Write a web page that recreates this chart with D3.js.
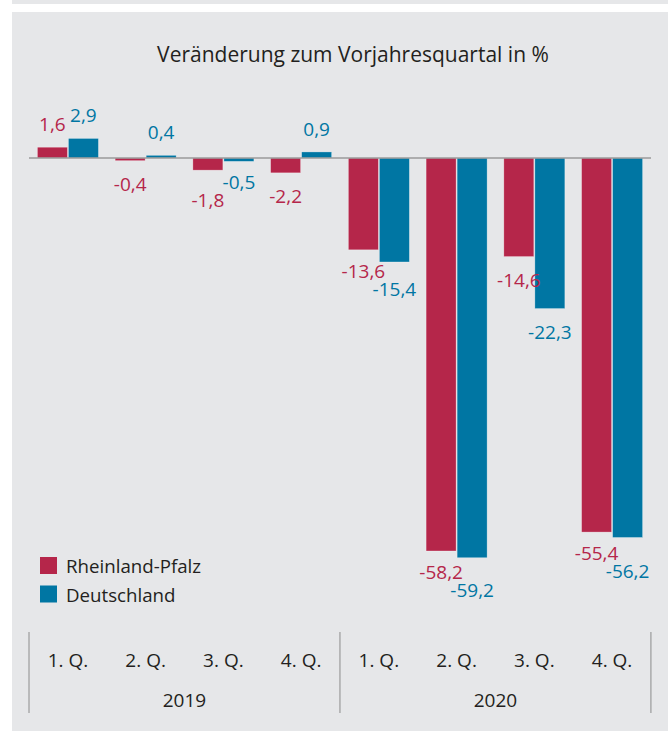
<!DOCTYPE html>
<html>
<head>
<meta charset="utf-8">
<script src="https://cdn.jsdelivr.net/npm/d3@7"></script>
<style>
  html, body { margin: 0; padding: 0; background: #fff; }
  svg { display: block; font-family: 'Open Sans', sans-serif; }
</style>
</head>
<body>
<svg id="chart" width="668" height="733"></svg>
<script>
  // data
  const quarters = ['1. Q.', '2. Q.', '3. Q.', '4. Q.', '1. Q.', '2. Q.', '3. Q.', '4. Q.'];
  const years = ['2019', '2020'];
  const seriesNames = ['Rheinland-Pfalz', 'Deutschland'];
  const rheinlandPfalz = [1.6, -0.4, -1.8, -2.2, -13.6, -58.2, -14.6, -55.4];
  const deutschland = [2.9, 0.4, -0.5, 0.9, -15.4, -59.2, -22.3, -56.2];
  const title = 'Veränderung zum Vorjahresquartal in %';

  const COLORS = ['#b5264a', '#0076a3'];
  const BG = '#e6e7e9';
  const TEXT = '#231f20';

  const svg = d3.select('#chart');
  const fmt = function (v) { return d3.format('.1f')(v).replace('.', ',').replace('\u2212', '-'); };

  // panel backgrounds
  svg.append('rect').attr('x', 12).attr('y', 0).attr('width', 656).attr('height', 4).attr('fill', BG);
  svg.append('rect').attr('x', 12).attr('y', 12).attr('width', 656).attr('height', 719).attr('fill', BG);

  svg.append('text')
    .attr('x', 353).attr('y', 62)
    .attr('text-anchor', 'middle')
    .attr('font-size', 21)
    .attr('fill', TEXT)
    .text(title);

  const keys = quarters.map(function (q, i) { return i; });
  const x0 = d3.scaleBand().domain(keys).range([29, 651]).paddingInner(0.215).paddingOuter(0.108);
  const x1 = d3.scaleBand().domain([0, 1]).range([0, x0.bandwidth()]).paddingInner(0.033);
  const y = d3.scaleLinear().domain([0, -58.2]).range([158, 551]);

  const rows = keys.map(function (i) {
    return { i: i, values: [rheinlandPfalz[i], deutschland[i]] };
  });

  const groups = svg.append('g').selectAll('g')
    .data(rows).join('g')
    .attr('transform', function (d) { return 'translate(' + x0(d.i) + ',0)'; });

  groups.selectAll('rect')
    .data(function (d) { return d.values.map(function (v, s) { return { v: v, s: s }; }); })
    .join('rect')
    .attr('x', function (d) { return x1(d.s); })
    .attr('y', function (d) { return y(Math.max(0, d.v)); })
    .attr('width', x1.bandwidth())
    .attr('height', function (d) { return Math.abs(y(d.v) - y(0)); })
    .attr('fill', function (d) { return COLORS[d.s]; })
    .attr('stroke', '#ffffff').attr('stroke-opacity', 0.5).attr('stroke-width', 0.6);

  // zero line
  svg.append('line')
    .attr('x1', 29).attr('x2', 651).attr('y1', y(0)).attr('y2', y(0))
    .attr('stroke', '#9a9a9a').attr('stroke-width', 1.5);

  // value labels, stacked apart when a pair would collide
  const OFFSET = 23;
  const STAGGER = 18;
  groups.each(function (d) {
    const g = d3.select(this);
    const labels = d.values.map(function (v, s) {
      const t = g.append('text')
        .attr('x', x1(s) + x1.bandwidth() / 2)
        .attr('text-anchor', 'middle')
        .attr('dominant-baseline', 'central')
        .attr('font-size', 19)
        .attr('fill', COLORS[s])
        .text(fmt(v));
      const cy = v >= 0 ? y(v) - OFFSET : y(v) + OFFSET;
      return { t: t, v: v, s: s, cy: cy, w: t.node().getComputedTextLength() };
    });
    const a = labels[0];
    const b = labels[1];
    const cx = function (l) { return x1(l.s) + x1.bandwidth() / 2; };
    const overlapX = Math.abs(cx(a) - cx(b)) < (a.w + b.w) / 2;
    if (overlapX && Math.abs(a.cy - b.cy) < STAGGER && (a.v < 0) === (b.v < 0)) {
      const sign = a.v < 0 ? 1 : -1;
      const deep = Math.abs(a.v) > Math.abs(b.v) ? a : b;
      const shallow = deep === a ? b : a;
      shallow.cy -= sign * 2;
      deep.cy = shallow.cy + sign * STAGGER;
    }
    labels.forEach(function (l) { l.t.attr('y', l.cy); });
  });

  // legend
  const legend = svg.append('g').selectAll('g')
    .data(seriesNames).join('g')
    .attr('transform', function (d, i) { return 'translate(40,' + (557 + i * 28.5) + ')'; });
  legend.append('rect').attr('width', 17).attr('height', 17)
    .attr('fill', function (d, i) { return COLORS[i]; });
  legend.append('text').attr('x', 26).attr('y', 8.5)
    .attr('dominant-baseline', 'central')
    .attr('font-size', 18.7).attr('fill', TEXT)
    .text(function (d) { return d; });

  // category axis: quarters, years and separators
  const axis = svg.append('g');
  axis.selectAll('text.q')
    .data(keys).join('text')
    .attr('class', 'q')
    .attr('x', function (i) { return x0(i) + x0.bandwidth() / 2; })
    .attr('y', 660)
    .attr('text-anchor', 'middle')
    .attr('dominant-baseline', 'central')
    .attr('font-size', 19).attr('fill', TEXT)
    .text(function (i) { return quarters[i]; });

  const yearEdges = [0, 4, 8].map(function (k) { return 29 + k * x0.step(); });
  axis.selectAll('line')
    .data(yearEdges).join('line')
    .attr('x1', function (d) { return d; }).attr('x2', function (d) { return d; })
    .attr('y1', 632).attr('y2', 713)
    .attr('stroke', '#8c8c8c').attr('stroke-width', 1);

  axis.selectAll('text.y')
    .data(years).join('text')
    .attr('class', 'y')
    .attr('x', function (d, k) { return (yearEdges[k] + yearEdges[k + 1]) / 2; })
    .attr('y', 700)
    .attr('text-anchor', 'middle')
    .attr('dominant-baseline', 'central')
    .attr('font-size', 19).attr('fill', TEXT)
    .text(function (d) { return d; });
</script>
</body>
</html>
